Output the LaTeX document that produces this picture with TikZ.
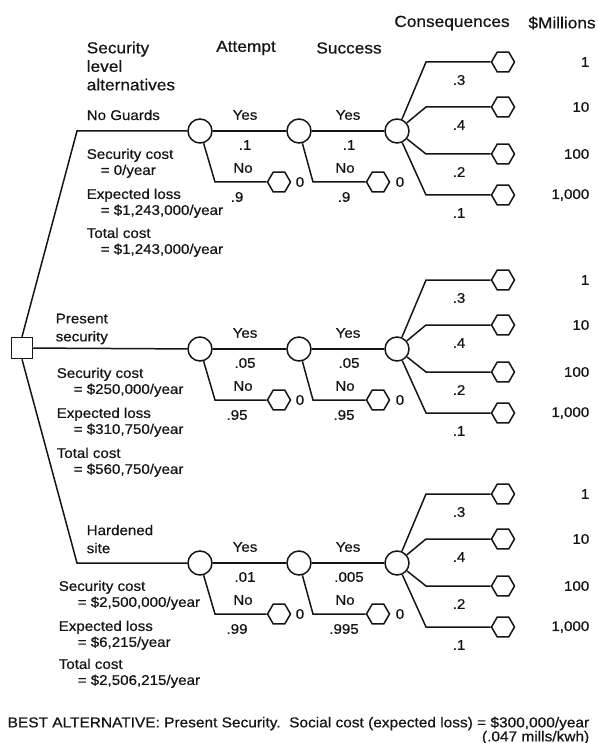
\documentclass[tikz,border=0pt]{standalone}
\usepackage{fontspec}
\setmainfont[FakeStretch=1.08, FakeBold=0.6]{Liberation Sans}
\usetikzlibrary{shapes.geometric}
\definecolor{ink}{HTML}{151515}

\begin{document}
\begin{tikzpicture}[x=1pt, y=-1pt, line width=1.5pt, draw=ink, text=ink,
    chance/.style={draw, circle, minimum size=24pt, inner sep=0pt, fill=white},
    choice/.style={draw, rectangle, minimum size=21pt, inner sep=0pt, fill=white},
    outcome/.style={draw, regular polygon, regular polygon sides=6, minimum size=23pt, inner sep=0pt, fill=white},
    head/.style={font=\fontsize{16}{18.5}\selectfont, inner sep=0pt},
    lbl/.style={font=\fontsize{14}{18}\selectfont, inner sep=0pt},
    note/.style={font=\fontsize{14}{16}\selectfont, inner sep=0pt, align=left, anchor=north west}]
  \useasboundingbox (0,0) rectangle (597,743);

  \node[head, align=left, anchor=north west] (levels) at (86,41) {Security\\level\\alternatives};
  \node[head] (attempt) at (246,48) {Attempt};
  \node[head] (success) at (349,48) {Success};
  \node[head] (conseq) at (452,23) {Consequences};
  \node[head] (millions) at (562,23) {\$Millions};

  \node[choice] (dec) at (22,348) {};
  \coordinate (t1) at (77,131);
  \coordinate (t3) at (77,563);

  \foreach \g/\y/\pa/\qa/\ps/\qs in {1/131/.1/.9/.1/.9, 2/349/.05/.95/.05/.95, 3/563/.01/.99/.005/.995} {
    \node[chance] (a\g) at (200,\y) {};
    \node[chance] (s\g) at (299,\y) {};
    \node[chance] (c\g) at (397,\y) {};
    \coordinate (an\g) at (215,\y+51);
    \coordinate (sn\g) at (313,\y+51);
    \node[outcome] (ha\g) at (279,\y+51) {};
    \node[outcome] (hs\g) at (378,\y+51) {};
    \draw (a\g) -- (s\g);
    \draw (s\g) -- (c\g);
    \draw (a\g) -- (an\g) -- (ha\g);
    \draw (s\g) -- (sn\g) -- (hs\g);
    \node[lbl] (ya\g) at (245,\y-16) {Yes};
    \node[lbl] (ys\g) at (348,\y-16) {Yes};
    \node[lbl] (pa\g) at (245,\y+14) {\pa};
    \node[lbl] (ps\g) at (349,\y+14) {\ps};
    \node[lbl] (na\g) at (243,\y+37) {No};
    \node[lbl] (ns\g) at (345,\y+37) {No};
    \node[lbl] (qa\g) at (237,\y+66) {\qa};
    \node[lbl] (qs\g) at (344,\y+66) {\qs};
    \node[lbl, anchor=west] (za\g) at (295,\y+51) {0};
    \node[lbl, anchor=west] (zs\g) at (395,\y+51) {0};
    \foreach \k/\dy/\p/\v in {1/-69/.3/1, 2/-24/.4/10, 3/23/.2/100, 4/64/.1/{1,000}} {
      \coordinate (f\g\k) at (426,\y+\dy);
      \node[outcome] (o\g\k) at (503,\y+\dy) {};
      \draw (c\g) -- (f\g\k) -- (o\g\k);
      \node[lbl] (p\g\k) at (459,\y+\dy+18) {\p};
      \node[lbl, anchor=east] (v\g\k) at (590,\y+\dy) {\v};
    }
  }

  \draw (dec.north) -- (t1) -- (a1);
  \draw (dec) -- (a2);
  \draw (dec.south) -- (t3) -- (a3);

  \node[lbl, anchor=west] (alt1) at (86,115) {No Guards};
  \node[lbl, align=left, anchor=south west] (alt2) at (55,345) {Present\\security};
  \node[lbl, align=left, anchor=south west] (alt3) at (86,554) {Hardened\\site};

  \node[note] (cost1) at (86,148) {Security cost\\\hspace{14pt}= 0/year};
  \node[note] (loss1) at (86,188) {Expected loss\\\hspace{14pt}= \$1,243,000/year};
  \node[note] (total1) at (86,227) {Total cost\\\hspace{14pt}= \$1,243,000/year};
  \node[note] (cost2) at (56,367) {Security cost\\\hspace{17pt}= \$250,000/year};
  \node[note] (loss2) at (56,407) {Expected loss\\\hspace{17pt}= \$310,750/year};
  \node[note] (total2) at (56,447) {Total cost\\\hspace{17pt}= \$560,750/year};
  \node[note] (cost3) at (58,580) {Security cost\\\hspace{19pt}= \$2,500,000/year};
  \node[note] (loss3) at (58,620) {Expected loss\\\hspace{19pt}= \$6,215/year};
  \node[note] (total3) at (58,658) {Total cost\\\hspace{19pt}= \$2,506,215/year};

  \node[lbl, font=\fontsize{14.3}{14}\selectfont, align=right, anchor=north east] (best) at (590,716)
    {BEST ALTERNATIVE: Present Security.\ \ Social cost (expected loss) = \$300,000/year\\(.047 mills/kwh)};
\end{tikzpicture}
\end{document}
